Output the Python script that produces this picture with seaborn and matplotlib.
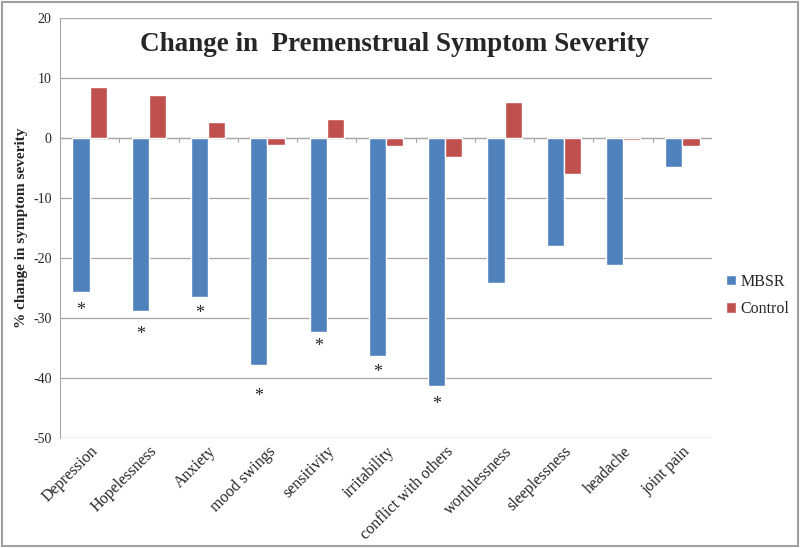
import numpy as np
import pandas as pd
import matplotlib.pyplot as plt
import seaborn as sns

# data
symptoms = ['Depression', 'Hopelessness', 'Anxiety', 'mood swings', 'sensitivity',
            'irritability', 'conflict with others', 'worthlessness', 'sleeplessness',
            'headache', 'joint pain']
mbsr = [-25.7, -28.8, -26.5, -37.8, -32.2, -36.3, -41.3, -24.2, -18.0, -21.2, -4.8]
control = [8.6, 7.2, 2.7, -1.2, 3.2, -1.3, -3.2, 6.0, -6.0, -0.3, -1.3]
# significance markers (value position under the MBSR bar)
star_idx = [0, 1, 2, 3, 4, 5, 6]
star_y = [-28.7, -32.7, -29.2, -43.0, -34.7, -39.0, -44.3]

df = pd.DataFrame({
    'symptom': symptoms * 2,
    'change': mbsr + control,
    'group': ['MBSR'] * len(symptoms) + ['Control'] * len(symptoms),
})

sns.set_style('white')
plt.rcParams['font.family'] = ['Liberation Serif', 'DejaVu Serif']
plt.rcParams['axes.unicode_minus'] = False

fig = plt.figure(figsize=(8, 5.48), dpi=100)
ax = fig.add_axes([0.075, 0.2, 0.815, 0.767])

sns.barplot(data=df, x='symptom', y='change', hue='group',
            palette={'MBSR': '#4F81BD', 'Control': '#C0504D'},
            width=0.58, saturation=1, ax=ax, legend=True)

ax.set_ylim(-50, 20)
ax.set_yticks(range(-50, 21, 10))
ax.set_xlim(-0.5, len(symptoms) - 0.5)
ax.yaxis.grid(True, color='#a6a6a6', lw=0.9)
ax.set_axisbelow(True)
for s in ['top', 'right', 'bottom']:
    ax.spines[s].set_visible(False)
ax.spines['left'].set_color('#a6a6a6')
ax.axhline(0, color='#a6a6a6', lw=0.9, zorder=0)
ax.tick_params(axis='y', length=0, labelsize=10, pad=6)
ax.tick_params(axis='x', length=0, labelsize=11.5)
ax.set_xticks(range(len(symptoms)))
ax.set_xticklabels(symptoms, rotation=45, ha='right', rotation_mode='anchor')
# small tick marks on the zero line between categories
for b in np.arange(-0.5, len(symptoms), 1):
    ax.plot([b, b], [0, -0.6], color='#a6a6a6', lw=0.8)

ax.set_xlabel('')
ax.set_ylabel('% change in symptom severity', fontsize=11, fontweight='bold')

# asterisks under the MBSR bars
bars = ax.containers[0]
for i, y in zip(star_idx, star_y):
    p = bars[i]
    ax.text(p.get_x() + p.get_width() / 2, y, '*', ha='center', va='center', fontsize=13)

ax.text(0.5125, 0.936, 'Change in  Premenstrual Symptom Severity', transform=ax.transAxes,
        ha='center', va='center', fontsize=19.5, fontweight='bold')

ax.legend(loc='center left', bbox_to_anchor=(1.0, 0.34), frameon=False,
          fontsize=11.5, handlelength=0.6, handleheight=0.6, handletextpad=0.3,
          labelspacing=0.7)

fig.patches.append(plt.Rectangle((0.003, 0.004), 0.994, 0.992, transform=fig.transFigure,
                                 fill=False, edgecolor='#a0a0a0', lw=1.5))

fig.savefig('out.png', dpi=100)
